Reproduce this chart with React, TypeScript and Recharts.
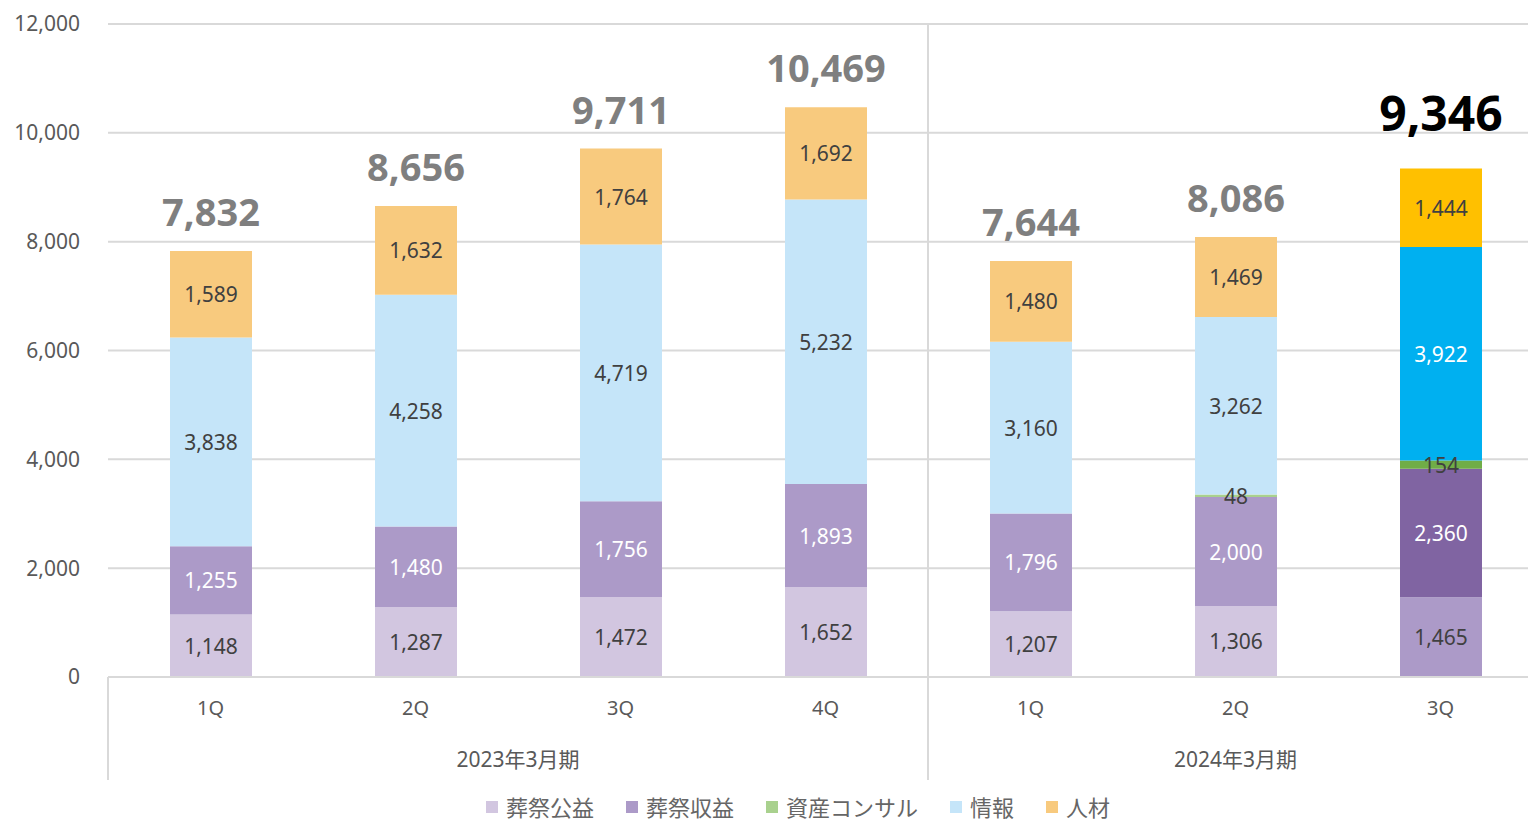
import React from "react";
import {
  BarChart, Bar, XAxis, YAxis, CartesianGrid, LabelList, Cell, ReferenceLine,
} from "recharts";

const quarters = ["1Q", "2Q", "3Q", "4Q", "1Q", "2Q", "3Q"];
const periods = [
  "2023年3月期", "2023年3月期", "2023年3月期", "2023年3月期",
  "2024年3月期", "2024年3月期", "2024年3月期",
];
const sosaiKoeki = [1148, 1287, 1472, 1652, 1207, 1306, 1465];
const sosaiShueki = [1255, 1480, 1756, 1893, 1796, 2000, 2360];
const shisanConsul = [null, null, null, null, null, 48, 154];
const joho = [3838, 4258, 4719, 5232, 3160, 3262, 3922];
const jinzai = [1589, 1632, 1764, 1692, 1480, 1469, 1444];
const totals = [7832, 8656, 9711, 10469, 7644, 8086, 9346];
const yTicks = [0, 2000, 4000, 6000, 8000, 10000, 12000];

// latest quarter is drawn in strong colours
const HIGHLIGHT = quarters.length - 1;

const FONT = "'Noto Sans', 'Noto Sans CJK JP', sans-serif";
const GRID = "#D9D9D9";
const AXIS_TEXT = "#595959";

const SERIES = [
  { key: "sosaiKoeki", name: "葬祭公益", light: "#D2C6E0", strong: "#AC9AC8", lightText: "#404040", strongText: "#404040" },
  { key: "sosaiShueki", name: "葬祭収益", light: "#AC9AC8", strong: "#8064A2", lightText: "#FFFFFF", strongText: "#FFFFFF" },
  { key: "shisanConsul", name: "資産コンサル", light: "#A9D18E", strong: "#70AD47", lightText: "#404040", strongText: "#FFFFFF" },
  { key: "joho", name: "情報", light: "#C5E5F9", strong: "#00B0F0", lightText: "#404040", strongText: "#FFFFFF" },
  { key: "jinzai", name: "人材", light: "#F8CA7E", strong: "#FFC000", lightText: "#404040", strongText: "#404040" },
];

const data = quarters.map((q, i) => ({
  key: `${periods[i]}-${q}`,
  quarter: q,
  period: periods[i],
  sosaiKoeki: sosaiKoeki[i],
  sosaiShueki: sosaiShueki[i],
  shisanConsul: shisanConsul[i],
  joho: joho[i],
  jinzai: jinzai[i],
  total: totals[i],
}));

const fmt = (v: number) => v.toLocaleString("en-US");

function segmentLabel(series: (typeof SERIES)[number]) {
  return (props: any) => {
    const { x, y, width, height, value, index } = props;
    if (value == null || value === 0) return null;
    const fill = index === HIGHLIGHT ? series.strongText : series.lightText;
    return (
      <text
        x={x + width / 2}
        y={y + height / 2}
        textAnchor="middle"
        dominantBaseline="central"
        fill={fill}
        fontSize={21}
        fontFamily={FONT}
      >
        {fmt(value)}
      </text>
    );
  };
}

function TotalLabel(props: any) {
  const { x, y, width, value, index } = props;
  const hi = index === HIGHLIGHT;
  return (
    <text
      x={x + width / 2}
      y={y - (hi ? 56 : 40)}
      textAnchor="middle"
      dominantBaseline="central"
      fill={hi ? "#000000" : "#7F7F7F"}
      fontSize={hi ? 48 : 38}
      fontWeight="bold"
      fontFamily={FONT}
    >
      {fmt(value)}
    </text>
  );
}

function QuarterTick(props: any) {
  const { x, y, payload, index } = props;
  const i = payload?.index ?? index;
  const half = payload?.offset ?? 0;
  const firstOfPeriod = i === 0 || periods[i] !== periods[i - 1];
  let span = 0;
  if (firstOfPeriod) {
    while (periods[i + span] === periods[i]) span++;
  }
  return (
    <g>
      <text x={x} y={y + 38} textAnchor="middle" fill={AXIS_TEXT} fontSize={20} fontFamily={FONT}>
        {quarters[i]}
      </text>
      {firstOfPeriod && (
        <>
          <line x1={x - half} x2={x - half} y1={y} y2={y + 103} stroke={GRID} strokeWidth={2} />
          <text
            x={x - half + span * half}
            y={y + 90}
            textAnchor="middle"
            fill={AXIS_TEXT}
            fontSize={21}
            fontFamily={FONT}
          >
            {periods[i]}
          </text>
        </>
      )}
    </g>
  );
}

export default function App() {
  return (
    <div
      style={{
        position: "absolute", left: 0, top: 0, width: 1528, height: 824,
        overflow: "hidden", background: "#fff", fontFamily: FONT,
      }}
    >
      <BarChart
        width={1545}
        height={824}
        data={data}
        margin={{ top: 24, right: 2, left: 0, bottom: 0 }}
      >
        <CartesianGrid vertical={false} stroke={GRID} strokeWidth={2} />
        <XAxis
          dataKey="key"
          height={147}
          tickSize={0}
          tickMargin={0}
          tickLine={false}
          axisLine={{ stroke: GRID, strokeWidth: 2 }}
          interval={0}
          tick={<QuarterTick />}
        />
        <YAxis
          width={108}
          domain={[0, 12000]}
          ticks={yTicks}
          tickFormatter={fmt}
          axisLine={false}
          tickLine={false}
          tickSize={0}
          tickMargin={28}
          tick={{ fill: AXIS_TEXT, fontSize: 21, fontFamily: FONT }}
        />
        <ReferenceLine x={data[4].key} position="start" stroke={GRID} strokeWidth={2} />
        {SERIES.map((s, si) => (
          <Bar
            key={s.key}
            dataKey={s.key}
            name={s.name}
            stackId="a"
            barSize={82}
            isAnimationActive={false}
          >
            {data.map((d, i) => (
              <Cell key={d.key} fill={i === HIGHLIGHT ? s.strong : s.light} />
            ))}
            <LabelList dataKey={s.key} content={segmentLabel(s)} />
            {si === SERIES.length - 1 && <LabelList dataKey="total" content={<TotalLabel />} />}
          </Bar>
        ))}
      </BarChart>
      <div
        style={{
          position: "absolute", left: 486, top: 791, display: "flex",
          alignItems: "center", fontSize: 22, lineHeight: "32px", color: "#666", whiteSpace: "nowrap",
        }}
      >
        {SERIES.map((s) => (
          <div key={s.key} style={{ display: "flex", alignItems: "center", marginRight: 32 }}>
            <span style={{ width: 12, height: 12, background: s.light, marginRight: 8, display: "inline-block" }} />
            <span>{s.name}</span>
          </div>
        ))}
      </div>
    </div>
  );
}
